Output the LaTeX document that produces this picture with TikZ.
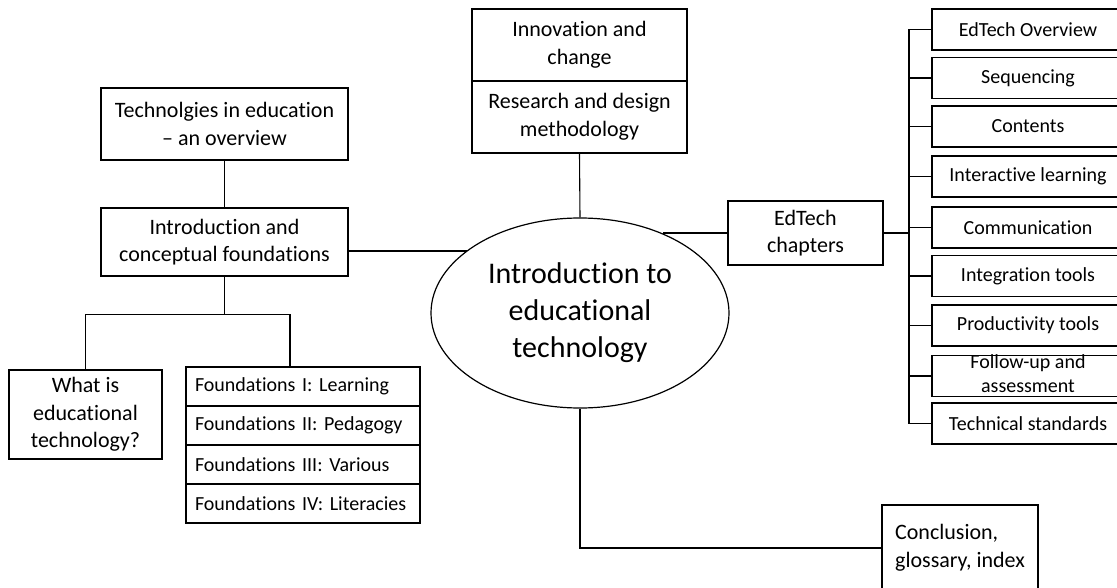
\documentclass[tikz,border=0pt]{standalone}
\usepackage{fontspec}
\setmainfont{Carlito}[Ligatures={TeX,NoCommon}]
\usetikzlibrary{shapes.geometric}
\frenchspacing
\begin{document}
\begin{tikzpicture}[x=1pt,y=-1pt,
  ink/.style={draw=black},
  box/.style={ink, line width=1.3pt, rectangle, inner sep=0pt, align=center,
    font=\fontsize{22}{27.5}\selectfont},
  fndbox/.style={ink, line width=1.3pt, rectangle, inner xsep=9pt, inner ysep=0pt,
    text width=216pt, align=left, minimum height=39pt, font=\fontsize{20}{24}\selectfont},
  chapbox/.style={ink, line width=1.5pt, rectangle, inner sep=0pt, minimum width=192pt,
    minimum height=41pt, align=center, font=\fontsize{20}{24}\selectfont},
  link/.style={draw=black, line width=1.1pt},
]
\useasboundingbox (0,0) rectangle (1117,588);
\clip (0,0) rectangle (1117,588);

% left branch
\node[box, minimum width=247pt, minimum height=72pt] (tech) at (224.5,124)
  {Technolgies in education\\– an overview};
\node[box, minimum width=247pt, minimum height=68pt] (intro) at (224.5,242)
  {Introduction and\\conceptual foundations};
\node[box, minimum width=153pt, minimum height=89pt] (what) at (85.5,414.5)
  {What is\\educational\\technology?};
\node[fndbox] (f1) at (303,386.5) {Foundations I: Learning};
\node[fndbox] (f2) at (303,425.5) {Foundations II: Pedagogy};
\node[fndbox] (f3) at (303,464.5) {Foundations III: Various};
\node[fndbox] (f4) at (303,503.5) {Foundations IV: Literacies};

% top branch
\node[box, minimum width=215pt, minimum height=72pt] (innov) at (579.5,45)
  {Innovation and\\change};
\node[box, minimum width=215pt, minimum height=72pt] (research) at (579.5,117)
  {Research and design\\methodology};

% central topic
\node[ellipse, ink, line width=1.2pt, minimum width=298pt, minimum height=190pt,
  inner sep=0pt, align=center, font=\fontsize{30}{37}\selectfont] (core) at (580,313)
  {Introduction to\\educational\\technology};

% right branch
\node[box, minimum width=155pt, minimum height=64pt] (chap) at (805.5,233)
  {EdTech\\chapters};
\node[chapbox] (r1) at (1028,29.5) {EdTech Overview};
\node[chapbox] (r2) at (1028,78) {Sequencing};
\node[chapbox] (r3) at (1028,126.5) {Contents};
\node[chapbox] (r4) at (1028,176.5) {Interactive learning};
\node[chapbox] (r5) at (1028,227.5) {Communication};
\node[chapbox] (r6) at (1028,276) {Integration tools};
\node[chapbox] (r7) at (1028,325.5) {Productivity tools};
\node[chapbox] (r8) at (1028,376)
  {\parbox[c][0pt][c]{180pt}{\centering Follow-up and\\assessment}};
\node[chapbox] (r9) at (1028,423.5) {Technical standards};

% bottom branch
\node[box, minimum width=156pt, minimum height=86pt, align=left] (concl) at (960,548)
  {Conclusion,\\glossary, index};

% connectors
\draw[link] (tech) -- (intro);
\draw[link] ([yshift=-9pt]intro.east) -- ([yshift=-9pt]intro.east -| core.151);
\draw[link] (intro.south) -- ++(0,37.5) coordinate (split);
\draw[link] (what.north) |- (split) -| ([xshift=-13pt]f1.north);
\draw[link] (research.south) -- (core.north);
\draw[link] (chap.west) -- (chap.west -| core.44);
\coordinate (bus) at (909,0);
\draw[link] (chap.east) -- (chap.east -| bus);
\draw[link] (r1.west) -- (r1.west -| bus) -- (r9.west -| bus) -- (r9.west);
\foreach \i in {2,...,8} \draw[link] (r\i.west) -- (r\i.west -| bus);
\draw[link] (core.south) |- (concl.west);
\end{tikzpicture}
\end{document}
